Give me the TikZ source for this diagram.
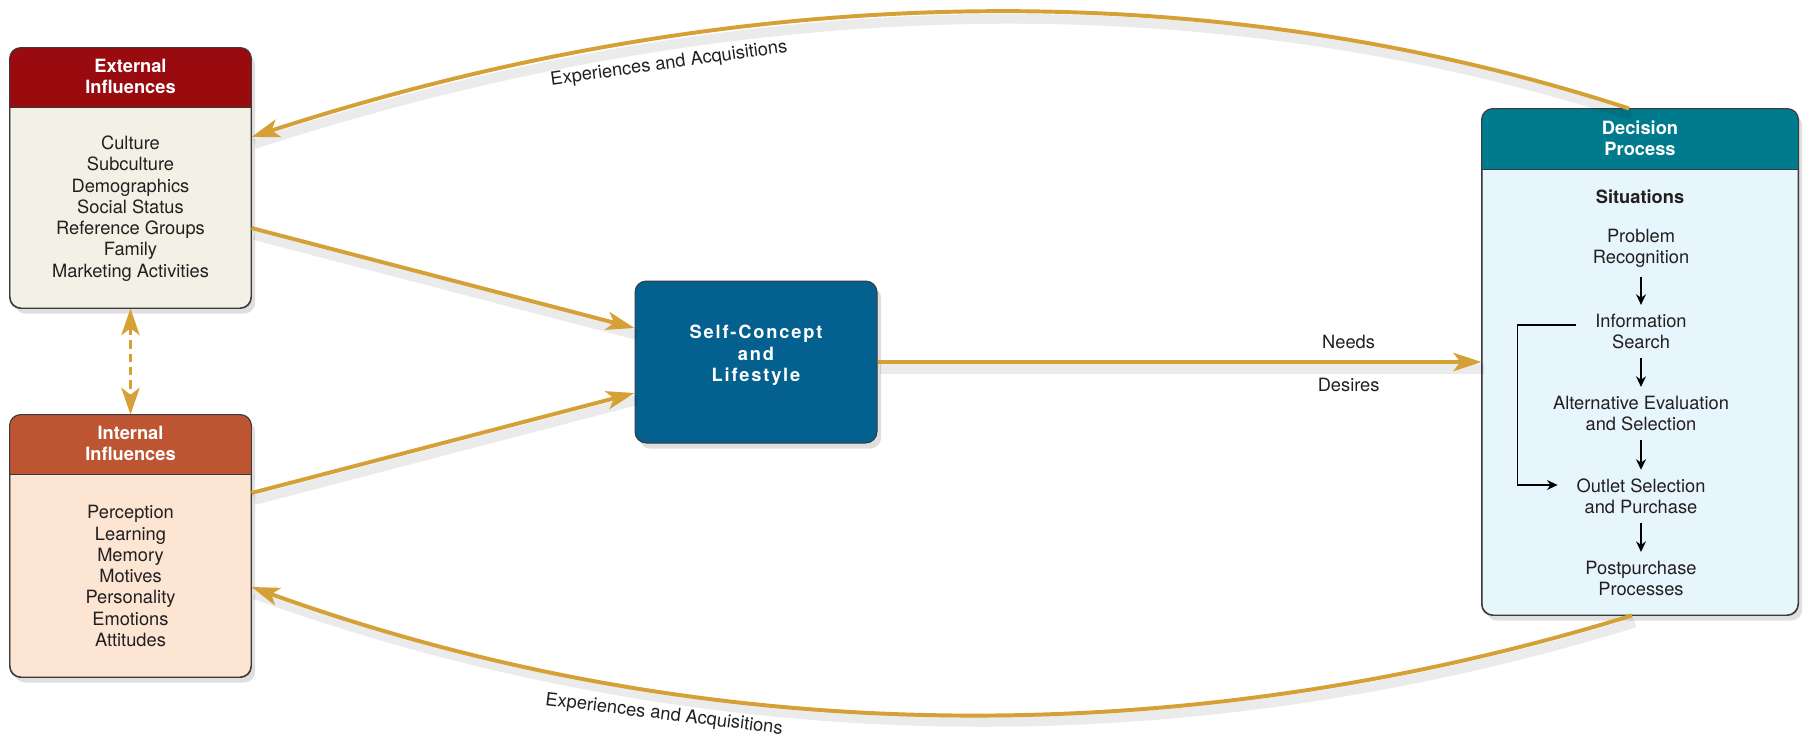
\documentclass[tikz,border=0pt]{standalone}
\usepackage{fontspec}
\setmainfont{TeX Gyre Heros}
\newfontfamily\trackedfont[LetterSpace=10]{TeX Gyre Heros}
\usepackage{tikz}
\usetikzlibrary{
  arrows.meta,
  fit,
  shadows
}
\definecolor{externalHead}{HTML}{9A0B10}
\definecolor{externalBody}{HTML}{F3F1E6}
\definecolor{internalHead}{HTML}{BD5533}
\definecolor{internalBody}{HTML}{FDE5D4}
\definecolor{decisionHead}{HTML}{007B8E}
\definecolor{decisionBody}{HTML}{E7F5FC}
\definecolor{selfBlue}{HTML}{04618F}
\definecolor{arrowGold}{HTML}{D5A035}
\definecolor{boxBorder}{HTML}{3A3A3A}
\definecolor{textDark}{HTML}{231F20}
\tikzset{
  panel/.style={draw=boxBorder,line width=0.7pt,rounded corners=8pt,inner sep=0pt,
    drop shadow={shadow xshift=3pt,shadow yshift=-4pt,opacity=0.25}},
  panel line/.style={draw=boxBorder,line width=0.7pt},
  headtext/.style={text=white,font=\bfseries\fontsize{13}{15}\selectfont,align=center,inner sep=2pt},
  listtext/.style={text=textDark,font=\fontsize{13}{15.1}\selectfont,align=center,inner sep=3.3pt},
  soft shadow/.style={preaction={draw=black,draw opacity=0.08,line width=7pt,-,
    transform canvas={xshift=2pt,yshift=-5pt}}},
  gold arrow/.style={soft shadow,draw=arrowGold,line width=2.8pt,-{Stealth[length=20pt,width=13pt,inset=5pt]}},
  gold dashed/.style={draw=arrowGold,line width=2.4pt,dash pattern=on 6pt off 3.5pt,
    {Stealth[length=19pt,width=13pt,inset=5pt]}-{Stealth[length=19pt,width=13pt,inset=5pt]}},
  flow/.style={draw=black,line width=1.2pt,-{Stealth[length=7.5pt,width=7pt]}},
}

\begin{document}
\begin{tikzpicture}[x=0.025cm,y=-0.025cm]
\useasboundingbox (0,0) rectangle (1804,739);
% the three boxes with a coloured head
\foreach \name/\xa/\ya/\xb/\yb/\yh/\hd/\bd in {
  external/10/48/251/308/107/externalHead/externalBody,
  internal/10/415/251/677/474/internalHead/internalBody,
  decision/1482/109/1798/615/169/decisionHead/decisionBody} {
  \node[panel,fill=\bd,fit={(\xa,\ya) (\xb,\yb)}] (\name) {};
  \fill[fill=\hd] (\xa,\yh) [rounded corners=8pt] -- (\xa,\ya) -- (\xb,\ya) [sharp corners] -- (\xb,\yh) -- cycle;
  \draw[panel line] (\xa,\yh) -- (\xb,\yh);
  \draw[panel line,rounded corners=8pt] (\name.south west) rectangle (\name.north east);
}
\node[panel,fill=selfBlue,fit={(635,281) (877,443)},text=white,align=center,
  font=\trackedfont\bfseries\fontsize{13}{15}\selectfont] (self) {Self-Concept\\and\\Lifestyle};

\node[headtext] (externalTitle) at (130.5,76) {External\\Influences};
\node[headtext] (internalTitle) at (130.5,443) {Internal\\Influences};
\node[headtext] (decisionTitle) at (1640,138.5) {Decision\\Process};

\node[listtext] (externalList) at (130.5,208.5) {Culture\\Subculture\\Demographics\\Social Status\\Reference Groups\\Family\\Marketing Activities};
\node[listtext] (internalList) at (130.5,576) {Perception\\Learning\\Memory\\Motives\\Personality\\Emotions\\Attitudes};

% decision steps
\node[listtext,font=\bfseries\fontsize{13}{15.1}\selectfont] (situations) at (1640,197) {Situations};
\node[listtext] (problem) at (1641,248.5) {Problem\\Recognition};
\node[listtext] (info) at (1641,331.5) {Information\\Search};
\node[listtext] (altEval) at (1641,413.5) {Alternative Evaluation\\and Selection};
\node[listtext] (outlet) at (1641,496.5) {Outlet Selection\\and Purchase};
\node[listtext] (post) at (1641,578.5) {Postpurchase\\Processes};
\foreach \a/\b in {problem/info,info/altEval,altEval/outlet,outlet/post}
  \draw[flow,shorten <=3pt,shorten >=3pt] (\a.south) -- (\b.north);
\draw[flow,shorten <=10pt,shorten >=10pt] (info.west |- 0,325) -- ++(-73,0) |- (outlet.west |- 0,485);

% influences
\draw[gold arrow] (external.east |- 0,228) -- (self.west |- 0,328);
\draw[gold arrow] (internal.east |- 0,493) -- (self.west |- 0,393);
\draw[gold dashed] (external.south) -- (internal.north);
\draw[gold arrow] (self.east |- 0,362) -- (decision.west |- 0,362)
  node[listtext,pos=0.78,above=4.5pt] (needs) {Needs}
  node[listtext,pos=0.78,below=6.5pt] (desires) {Desires};

% feedback
\draw[gold arrow] ([xshift=-7.8pt]decision.north) .. controls (1201,-31) and (728,-18) .. (external.east |- 0,137);
\draw[gold arrow] ([xshift=-5.7pt]decision.south) .. controls (1202,748) and (723,757) .. (internal.east |- 0,587);
\node[listtext,rotate=8] (topLabel) at (669,64) {Experiences and Acquisitions};
\node[listtext,rotate=-7] (bottomLabel) at (664,715) {Experiences and Acquisitions};
\end{tikzpicture}
\end{document}
